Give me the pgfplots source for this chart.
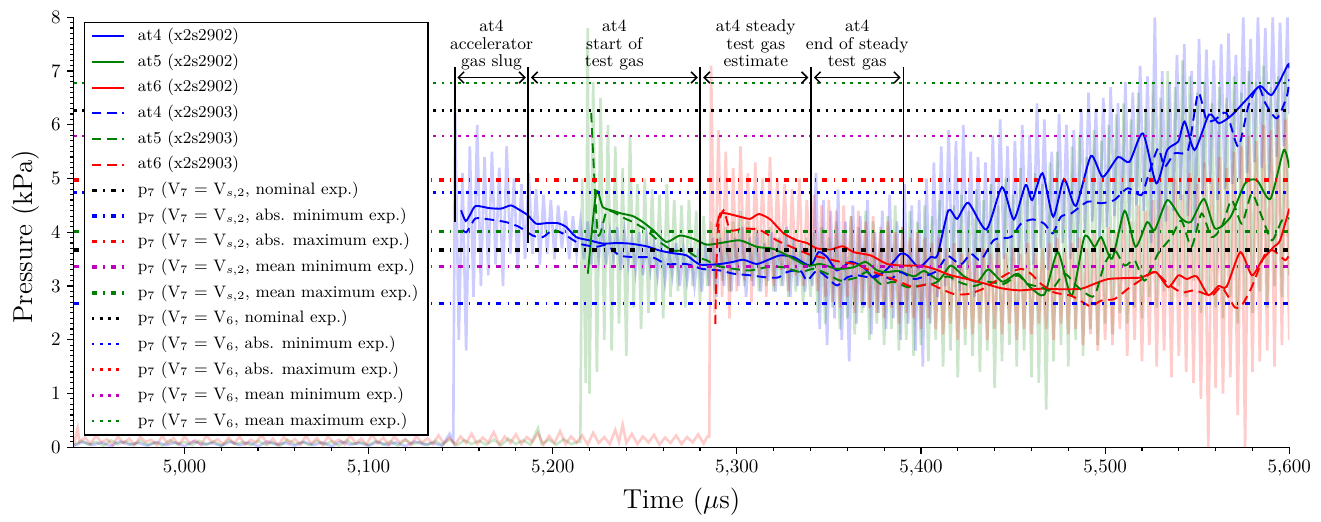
\documentclass[border=0pt]{standalone}
\usepackage{pgfplots}
\pgfplotsset{compat=1.18}
\usetikzlibrary{arrows.meta}
\definecolor{mgreen}{rgb}{0,0.5,0}
\definecolor{mmag}{rgb}{0.75,0,0.75}
\pgfplotsset{
  sm/.style={line width=1pt},
  sdash/.style={line width=1pt, dash pattern=on 5pt off 3pt},
  hdd/.style={line width=1.8pt, dash pattern=on 2.6pt off 3.4pt on 0.7pt off 3.4pt},
  hdot/.style={line width=1.4pt, dash pattern=on 1.4pt off 2.9pt},
  raw/.style={line width=1.4pt, draw opacity=0.2, forget plot},
  vl/.style={black, line width=1pt, forget plot},
}
\tikzset{
  arr/.style={{Straight Barb[length=3pt,width=6pt]}-{Straight Barb[length=3pt,width=6pt]}, line width=0.8pt},
  lab/.style={align=center, anchor=south, font=\small, inner sep=0pt, text depth=0pt},
}
\begin{document}
\begin{tikzpicture}
\begin{axis}[
  scale only axis, width=639.6pt, height=226.3pt,
  xmin=4940, xmax=5600, ymin=0, ymax=8,
  axis lines*=left,
  tick align=outside,
  xtick={5000,5100,...,5600}, ytick={0,1,...,8},
  minor x tick num=4, minor y tick num=9,
  major tick length=3.5pt, minor tick length=2pt,
  every tick/.style={black, line width=0.6pt},
  axis line style={line width=0.6pt},
  xlabel={Time ($\mu$s)}, ylabel={Pressure (kPa)},
  label style={font=\Large},
  xlabel style={at={(axis description cs:0.5,0)}, anchor=center, yshift=-28.5pt},
  ylabel style={at={(axis description cs:-0.0395,0.49)}, anchor=center, rotate=0},
  legend cell align=left,
  legend image code/.code={\draw[#1] (0cm,0cm) -- (0.6cm,0cm); \path (0.75cm,0cm);},
  legend style={at={(0.008,0.99)}, anchor=north west, font=\fontsize{8.75}{10.5}\selectfont, draw=black, line width=0.8pt, fill=white, inner xsep=3pt, inner ysep=0.6pt, row sep=0pt, nodes={text height=7pt, text depth=2.5pt, inner ysep=2.0pt, inner xsep=2pt}},
]
% ---------- raw traces ----------
\addplot[raw, blue] coordinates {
(4940,0.03) (4945,0.1) (4950,0.04) (4955,0.09) (4960,0.02) (4965,0.11) (4970,0.05) (4975,0.08) (4980,0.03) (4985,0.1) (4990,0.04) (4995,0.09) (5000,0.02) (5005,0.11) (5010,0.05) (5015,0.08) (5020,0.03) (5025,0.1) (5030,0.04) (5035,0.09) (5040,0.02) (5045,0.11) (5050,0.05) (5055,0.08) (5060,0.03) (5065,0.1) (5070,0.04) (5075,0.09) (5080,0.02) (5085,0.11) (5090,0.05) (5095,0.08) (5100,0.03) (5105,0.1) (5110,0.04) (5115,0.09) (5120,0.02) (5125,0.11) (5130,0.05) (5135,0.08) (5140,0.03) (5144,0.25) (5146,0.1)
(5147,6.3) (5149,2.0) (5151,5.1) (5153,1.8) (5155,5.6) (5157,2.8) (5159,6.0) (5161,3.0) (5163,5.4) (5165,3.2) (5167,5.5) (5169,3.4) (5171,5.2) (5173,3.0) (5175,5.6) (5177,3.6) (5179,5.0) (5181,3.3) (5183,4.9) (5185,3.5) (5187,5.1) (5189,3.6) (5191,4.8) (5193,3.4) (5195,4.7) (5197,3.6) (5199,4.6) (5201,3.5) (5203,4.5) (5205,3.7) (5207,4.4) (5209,3.5) (5211,4.3) (5213,3.6) (5215,4.2) (5217,3.5) (5219,4.2) (5221,3.4) (5223,4.1) (5225,3.5) (5227,4.2) (5229,3.4) (5231,4.0) (5233,3.5) (5235,4.1) (5237,3.3) (5239,4.0) (5241,3.4) (5243,3.9) (5245,3.3) (5247,4.0) (5249,3.2) (5251,3.9) (5253,3.3) (5255,3.8) (5257,3.2) (5259,3.8) (5261,3.1) (5263,3.7) (5265,3.2) (5267,3.8) (5269,3.0) (5271,3.7) (5273,3.1) (5275,3.6) (5277,3.0) (5279,3.7) (5281,2.9) (5283,3.8) (5285,3.0) (5287,3.9) (5289,2.8) (5291,3.9) (5293,3.0) (5295,4.0) (5297,2.9) (5299,3.9) (5301,3.0) (5303,4.1) (5305,2.8) (5307,3.9) (5309,3.0) (5311,4.0) (5313,2.9) (5315,3.8) (5317,3.1) (5319,4.0) (5321,2.9) (5323,3.9) (5325,3.0) (5327,4.1) (5329,2.8) (5331,3.9) (5333,3.0) (5335,3.8) (5337,2.9) (5339,3.7) (5341,3.0) (5343,5.1) (5345,2.2) (5347,4.6) (5349,1.9) (5351,4.4) (5353,2.4) (5355,4.8) (5357,2.0) (5359,4.2) (5361,1.6) (5363,4.5) (5365,2.3) (5367,4.3) (5369,2.6) (5371,4.6) (5373,2.1) (5375,4.0) (5377,2.5) (5379,4.4) (5381,2.2) (5383,4.7) (5385,2.4) (5387,4.2) (5389,2.0) (5391,4.9) (5393,2.3) (5395,4.5) (5397,1.8) (5399,4.6) (5401,1.5) (5403,5.0) (5405,2.3) (5407,5.3) (5409,2.8) (5411,5.6) (5413,3.0) (5415,5.9) (5417,3.1) (5419,5.7) (5421,2.9) (5423,6.0) (5425,3.3) (5427,5.5) (5429,2.8) (5431,5.4) (5433,3.1) (5435,5.3) (5437,3.0) (5439,5.8) (5441,3.2) (5443,6.1) (5445,3.5) (5447,5.6) (5449,3.2) (5451,5.7) (5453,3.4) (5455,6.0) (5457,3.6) (5459,5.8) (5461,3.4) (5463,6.4) (5465,3.7) (5467,6.1) (5469,3.3) (5471,5.5) (5473,3.6) (5475,6.2) (5477,3.8) (5479,6.0) (5481,3.5) (5483,5.9) (5485,3.7) (5487,6.3) (5489,4.0) (5491,6.6) (5493,4.2) (5495,6.3) (5497,3.9) (5499,6.5) (5501,4.1) (5503,6.7) (5505,4.3) (5507,6.4) (5509,4.0) (5511,6.8) (5513,4.2) (5515,6.6) (5517,4.5) (5519,7.1) (5521,4.4) (5523,6.9) (5525,3.8) (5527,8.0) (5529,3.6) (5531,7.0) (5533,4.2) (5535,6.8) (5537,4.4) (5539,7.3) (5541,4.6) (5543,7.5) (5545,4.3) (5547,7.0) (5549,4.0) (5551,7.6) (5553,4.7) (5555,7.4) (5557,4.9) (5559,7.2) (5561,4.6) (5563,7.5) (5565,4.8) (5567,7.7) (5569,4.9) (5571,7.3) (5573,5.0) (5575,8.0) (5577,5.1) (5579,7.6) (5581,5.3) (5583,8.0) (5585,5.2) (5587,7.8) (5589,5.0) (5591,8.0) (5593,5.4) (5595,7.9) (5597,5.6) (5599,8.0) (5600,6.2)};
\addplot[raw, mgreen] coordinates {
(4940,0.04) (4944,0.12) (4948,0.05) (4952,0.1) (4956,0.03) (4960,0.13) (4964,0.06) (4968,0.11) (4972,0.04) (4976,0.12) (4980,0.05) (4984,0.09) (4988,0.03) (4992,0.13) (4996,0.06) (5000,0.1) (5004,0.04) (5008,0.12) (5012,0.05) (5016,0.11) (5020,0.03) (5024,0.13) (5028,0.06) (5032,0.1) (5036,0.04) (5040,0.12) (5044,0.05) (5048,0.09) (5052,0.03) (5056,0.14) (5060,0.06) (5064,0.1) (5068,0.04) (5072,0.12) (5076,0.05) (5080,0.11) (5084,0.03) (5088,0.13) (5092,0.06) (5096,0.1) (5100,0.04) (5104,0.12) (5108,0.05) (5112,0.11) (5116,0.03) (5120,0.14) (5124,0.06) (5128,0.1) (5132,0.04) (5136,0.12) (5140,0.05) (5144,0.15) (5148,0.04) (5152,0.13) (5156,0.06) (5160,0.12) (5164,0.05) (5168,0.14) (5172,0.04) (5176,0.16) (5180,0.06) (5184,0.13) (5188,0.05) (5192,0.35) (5194,0.06) (5198,0.14) (5202,0.05) (5206,0.15) (5210,0.06) (5214,0.1)
(5215,0.1) (5216,5.0) (5218,1.2) (5219,7.8) (5220,1.0) (5222,6.8) (5224,1.4) (5226,6.5) (5228,2.0) (5230,6.0) (5232,1.8) (5234,5.6) (5236,2.3) (5238,5.2) (5240,1.7) (5242,5.8) (5244,2.6) (5246,4.9) (5248,2.2) (5250,5.0) (5252,2.5) (5254,4.8) (5256,2.7) (5258,4.7) (5260,2.4) (5262,4.9) (5264,2.8) (5266,4.6) (5268,2.9) (5270,4.5) (5272,2.6) (5274,4.6) (5276,3.0) (5278,4.4) (5280,2.7) (5282,4.3) (5284,3.0) (5286,4.2) (5288,2.9) (5290,4.3) (5292,3.1) (5294,4.1) (5296,2.9) (5298,4.2) (5300,3.2) (5302,4.4) (5304,3.0) (5306,4.2) (5308,3.1) (5310,4.1) (5312,2.9) (5314,4.0) (5316,3.0) (5318,4.1) (5320,2.9) (5322,3.9) (5324,3.0) (5326,4.0) (5328,2.8) (5330,3.9) (5332,2.9) (5334,3.8) (5336,2.7) (5338,3.9) (5340,2.8) (5342,4.0) (5344,2.5) (5346,4.1) (5348,2.3) (5350,3.9) (5352,2.6) (5354,4.2) (5356,2.2) (5358,4.0) (5360,2.4) (5362,4.3) (5364,2.1) (5366,4.1) (5368,2.5) (5370,4.4) (5372,2.0) (5374,4.2) (5376,2.3) (5378,4.0) (5380,1.9) (5382,4.3) (5384,2.2) (5386,4.5) (5388,1.8) (5390,4.1) (5392,2.0) (5394,4.4) (5396,1.7) (5398,4.2) (5400,1.9) (5402,4.5) (5404,1.6) (5406,4.3) (5408,2.0) (5410,4.6) (5412,1.5) (5414,4.4) (5416,1.8) (5418,4.5) (5420,1.3) (5422,4.7) (5424,1.9) (5426,4.4) (5428,1.7) (5430,4.8) (5432,1.4) (5434,4.6) (5436,1.8) (5438,4.9) (5440,1.1) (5442,4.5) (5444,1.6) (5446,5.0) (5448,1.9) (5450,4.7) (5452,1.5) (5454,5.2) (5456,1.8) (5458,4.8) (5460,1.3) (5462,5.1) (5464,1.2) (5466,4.9) (5468,0.7) (5470,5.3) (5472,1.6) (5474,5.5) (5476,1.9) (5478,5.0) (5480,1.5) (5482,5.6) (5484,2.0) (5486,5.8) (5488,1.7) (5490,5.4) (5492,2.2) (5494,5.9) (5496,1.9) (5498,5.7) (5500,2.3) (5502,6.0) (5504,2.1) (5506,6.2) (5508,2.5) (5510,6.4) (5512,2.3) (5514,6.1) (5516,2.6) (5518,6.6) (5520,2.4) (5522,6.3) (5524,2.8) (5526,6.8) (5528,2.6) (5530,6.5) (5532,2.9) (5534,7.0) (5536,2.7) (5538,6.7) (5540,3.0) (5542,7.2) (5544,2.8) (5546,6.9) (5548,3.1) (5550,6.6) (5552,2.5) (5554,6.8) (5556,2.9) (5558,6.4) (5560,2.6) (5562,6.7) (5564,2.4) (5566,6.5) (5568,2.8) (5570,6.9) (5572,2.3) (5574,6.6) (5576,2.7) (5578,7.0) (5580,2.5) (5582,6.8) (5584,2.9) (5586,7.1) (5588,2.6) (5590,6.7) (5592,3.0) (5594,6.9) (5596,2.8) (5598,7.0) (5600,3.2)};
\addplot[raw, red] coordinates {
(4940,0.05) (4942,0.35) (4943,0.1) (4946,0.18) (4949,0.06) (4952,0.22) (4955,0.09) (4958,0.15) (4961,0.04) (4964,0.2) (4967,0.08) (4970,0.16) (4973,0.05) (4976,0.19) (4979,0.1) (4982,0.14) (4985,0.04) (4988,0.21) (4991,0.07) (4994,0.17) (4997,0.05) (5000,0.2) (5003,0.08) (5006,0.13) (5009,0.04) (5012,0.22) (5015,0.09) (5018,0.15) (5021,0.06) (5024,0.18) (5027,0.07) (5030,0.2) (5033,0.05) (5036,0.14) (5039,0.09) (5042,0.23) (5045,0.06) (5048,0.16) (5051,0.04) (5054,0.19) (5057,0.08) (5060,0.15) (5063,0.05) (5066,0.21) (5069,0.07) (5072,0.17) (5075,0.04) (5078,0.2) (5081,0.09) (5084,0.14) (5087,0.05) (5090,0.22) (5093,0.08) (5096,0.16) (5099,0.06) (5102,0.24) (5105,0.07) (5108,0.18) (5111,0.05) (5114,0.2) (5117,0.09) (5120,0.15) (5123,0.04) (5126,0.21) (5129,0.08) (5132,0.17) (5135,0.06) (5138,0.22) (5141,0.07) (5144,0.18) (5147,0.05) (5150,0.2) (5153,0.08) (5156,0.25) (5159,0.06) (5162,0.18) (5165,0.09) (5168,0.28) (5171,0.05) (5174,0.2) (5177,0.08) (5180,0.24) (5183,0.06) (5186,0.19) (5189,0.1) (5192,0.26) (5195,0.05) (5198,0.21) (5201,0.08) (5204,0.3) (5207,0.06) (5210,0.2) (5213,0.09) (5216,0.22) (5219,0.05) (5222,0.27) (5225,0.08) (5228,0.19) (5231,0.06) (5234,0.32) (5236,0.1) (5238,0.42) (5240,0.08) (5243,0.25) (5246,0.06) (5249,0.2) (5252,0.09) (5255,0.23) (5258,0.05) (5261,0.18) (5264,0.08) (5267,0.22) (5270,0.06) (5273,0.19) (5276,0.09) (5279,0.24) (5282,0.07) (5284,0.2)
(5285,0.2) (5286,7.1) (5288,2.5) (5290,5.9) (5292,2.8) (5294,5.5) (5296,2.4) (5298,5.2) (5300,2.9) (5302,5.6) (5304,3.1) (5306,5.1) (5308,2.7) (5310,5.3) (5312,3.2) (5314,5.0) (5316,2.8) (5318,5.4) (5320,3.0) (5322,5.0) (5324,3.3) (5326,4.9) (5328,2.9) (5330,4.8) (5332,3.2) (5334,5.0) (5336,3.0) (5338,4.6) (5340,3.3) (5342,4.7) (5344,2.9) (5346,4.5) (5348,2.8) (5350,4.6) (5352,2.7) (5354,4.4) (5356,2.6) (5358,4.5) (5360,2.8) (5362,4.3) (5364,2.5) (5366,4.4) (5368,2.7) (5370,4.2) (5372,2.6) (5374,4.3) (5376,2.5) (5378,4.1) (5380,2.4) (5382,4.2) (5384,2.6) (5386,4.0) (5388,2.3) (5390,4.1) (5392,2.5) (5394,3.9) (5396,2.4) (5398,4.0) (5400,2.2) (5402,3.9) (5404,2.4) (5406,3.8) (5408,2.2) (5410,3.9) (5412,2.1) (5414,3.7) (5416,2.3) (5418,3.8) (5420,2.0) (5422,3.6) (5424,2.2) (5426,3.7) (5428,2.1) (5430,3.5) (5432,2.3) (5434,3.7) (5436,2.0) (5438,3.6) (5440,2.2) (5442,3.8) (5444,2.1) (5446,3.6) (5448,2.3) (5450,3.7) (5452,2.0) (5454,3.6) (5456,2.2) (5458,3.8) (5460,2.1) (5462,3.6) (5464,2.3) (5466,3.7) (5468,2.2) (5470,3.8) (5472,2.0) (5474,3.9) (5476,2.3) (5478,3.7) (5480,2.1) (5482,3.8) (5484,2.2) (5486,3.9) (5488,1.9) (5490,3.7) (5492,2.1) (5494,4.0) (5496,1.8) (5498,3.9) (5500,2.0) (5502,4.1) (5504,1.9) (5506,4.0) (5508,2.2) (5510,4.3) (5512,1.7) (5514,4.2) (5516,2.0) (5518,4.5) (5520,1.6) (5522,4.4) (5524,1.9) (5526,4.6) (5528,1.5) (5530,4.8) (5532,1.8) (5534,4.5) (5536,1.3) (5538,5.0) (5540,1.7) (5542,4.7) (5544,1.4) (5546,5.1) (5548,1.2) (5550,4.9) (5552,0.9) (5554,5.3) (5556,0.0) (5558,5.0) (5560,1.1) (5562,5.4) (5564,1.0) (5566,5.2) (5568,1.3) (5570,5.5) (5572,0.6) (5574,5.6) (5576,0.0) (5578,5.8) (5580,1.4) (5582,5.7) (5584,1.6) (5586,6.0) (5588,1.8) (5590,5.9) (5592,1.5) (5594,6.2) (5596,1.9) (5598,6.1) (5600,2.0)};
% ---------- smoothed traces ----------
\addplot[sm, blue, smooth, tension=0.4] coordinates {
(5150.2,4.41) (5152.8,4.21) (5155.5,4.35) (5158.2,4.49) (5165.5,4.45) (5171.9,4.44) (5177.3,4.50) (5181.8,4.42) (5186.4,4.32) (5191,4.16) (5196.4,4.17) (5202.7,4.17) (5207.3,4.10) (5212.8,3.91) (5220,3.85) (5227.2,3.79) (5234.6,3.80) (5241.8,3.79) (5250.9,3.74) (5258.1,3.66) (5265.4,3.61) (5272.7,3.57) (5280,3.40) (5290.8,3.41) (5298.1,3.45) (5303.5,3.49) (5310.8,3.41) (5317.2,3.49) (5323.5,3.57) (5330.8,3.54) (5339.9,3.38) (5344.4,3.63) (5349,3.54) (5354.4,3.29) (5361.7,3.45) (5368.9,3.35) (5374.4,3.15) (5381.7,3.32) (5388.9,3.60) (5392.6,3.57) (5398.9,3.35) (5405.3,3.54) (5408.9,3.57) (5414.9,4.41) (5419.6,4.25) (5425.7,4.55) (5435.5,4.05) (5444,4.84) (5450.4,4.24) (5456.8,4.88) (5460.4,4.60) (5466,5.10) (5471.8,4.29) (5477.7,4.99) (5484.1,4.49) (5492.3,5.42) (5498.7,5.03) (5507,5.40) (5513.2,5.31) (5520.5,5.84) (5527.8,4.91) (5533.7,5.53) (5539.7,5.69) (5543.2,6.06) (5548.6,5.53) (5556.4,6.19) (5561.8,6.03) (5568.5,6.17) (5576.8,6.47) (5584.2,6.72) (5590.6,6.56) (5599.3,7.12) (5600,7.05)};
\addlegendentry{at4 (x2s2902)}
\addplot[sm, mgreen, smooth, tension=0.4] coordinates {
(5219.1,3.23) (5223.6,4.74) (5227.2,4.47) (5232.7,4.40) (5237.3,4.35) (5243.6,4.30) (5249,4.19) (5254.5,4.04) (5261.8,3.82) (5269,3.94) (5276.3,3.88) (5283.6,3.77) (5291,3.80) (5301.7,3.85) (5310.8,3.73) (5319.9,3.69) (5329,3.54) (5338.1,3.38) (5345.4,3.41) (5354.4,3.32) (5363.5,3.35) (5369.9,3.45) (5376.2,3.29) (5381.7,3.26) (5388,3.28) (5396.2,3.18) (5401.7,3.28) (5409.8,3.12) (5416.1,3.38) (5423.4,3.18) (5430.6,3.08) (5436.6,3.31) (5444.3,3.08) (5452.5,3.23) (5459.3,2.98) (5467,2.84) (5474.3,3.63) (5481.8,2.82) (5488.8,3.92) (5494.3,3.73) (5497.9,3.91) (5503.8,3.51) (5510.6,4.40) (5516.5,3.73) (5522.8,4.19) (5526.9,4.04) (5533.8,4.60) (5541,4.27) (5546.5,4.19) (5553.7,4.62) (5559.7,4.07) (5568,4.28) (5576,4.91) (5582.4,4.97) (5589.7,4.62) (5597,5.53) (5600,5.20)};
\addlegendentry{at5 (x2s2902)}
\addplot[sm, red, smooth, tension=0.4] coordinates {
(5289,4.10) (5291,4.35) (5294.5,4.35) (5301.7,4.29) (5307.2,4.25) (5312,4.34) (5318.1,4.24) (5325.4,3.98) (5332.6,3.85) (5338.1,3.80) (5343.5,3.70) (5351,3.68) (5357.5,3.74) (5363.5,3.63) (5372.6,3.57) (5381.7,3.41) (5390.7,3.38) (5399.8,3.38) (5407.1,3.32) (5416.1,3.20) (5425.2,3.13) (5434.3,3.05) (5443.4,2.96) (5453.4,2.92) (5465.2,2.95) (5476.1,2.94) (5487,2.95) (5494.1,3.04) (5501.6,3.13) (5512.5,3.15) (5519.8,3.16) (5527.5,3.26) (5534.3,2.98) (5539.8,3.20) (5544.3,3.13) (5549.7,3.18) (5556.1,2.83) (5561.5,3.0) (5566,2.99) (5573.4,3.63) (5579.7,3.20) (5585.2,3.48) (5591.6,3.73) (5595,3.85) (5600,4.44)};
\addlegendentry{at6 (x2s2902)}
\addplot[sdash, blue, smooth, tension=0.4] coordinates {
(5151,4.04) (5153,4.0) (5155.5,4.12) (5158.2,4.26) (5165.5,4.24) (5174.6,4.19) (5181.8,4.10) (5189.1,3.94) (5194.6,3.91) (5200,4.04) (5205.4,3.98) (5214.5,3.79) (5223.6,3.73) (5229.1,3.76) (5236.3,3.57) (5243.6,3.54) (5254.5,3.53) (5261.8,3.41) (5272.7,3.41) (5281,3.32) (5290.8,3.29) (5298.1,3.23) (5307.2,3.20) (5316.3,3.16) (5322.6,3.16) (5327.2,3.26) (5334.4,3.29) (5338.1,3.10) (5343.5,3.29) (5349,3.16) (5354.4,3.01) (5359.9,3.16) (5365.3,3.20) (5372.6,3.16) (5378,3.23) (5383.5,3.13) (5388.9,3.26) (5396.4,3.13) (5403.4,3.20) (5408.9,3.29) (5414.4,3.56) (5421.6,3.40) (5427.1,3.60) (5432.5,3.48) (5439.7,3.86) (5448.8,3.91) (5454.3,4.16) (5460.6,4.24) (5467,4.16) (5471.5,3.98) (5476,4.29) (5481.5,4.35) (5490.5,4.57) (5497.8,4.54) (5505,4.60) (5512.3,4.82) (5519.6,4.69) (5523.2,5.03) (5528.7,5.56) (5532.3,5.22) (5537.7,5.47) (5545,5.53) (5550.5,6.59) (5555,6.09) (5559.5,6.09) (5565.9,6.22) (5572.3,5.59) (5577.7,6.34) (5583.2,6.72) (5586.9,6.41) (5593.2,6.12) (5598.7,6.53) (5600,6.85)};
\addlegendentry{at4 (x2s2903)}
\addplot[sdash, mgreen, smooth, tension=0.4] coordinates {
(5220.9,6.22) (5224.5,3.98) (5229.1,4.38) (5232.7,4.38) (5239,4.26) (5243.6,4.19) (5250.9,4.04) (5258.1,3.82) (5265.4,3.66) (5272.7,3.66) (5278.1,3.54) (5283.6,3.48) (5289,3.38) (5298.1,3.32) (5307.2,3.29) (5316.3,3.35) (5325.4,3.35) (5334.4,3.26) (5341.7,3.32) (5349,3.23) (5356.2,3.10) (5365.3,3.16) (5370.8,3.26) (5378,3.04) (5385.3,3.08) (5392.6,2.98) (5399.8,3.01) (5407.1,3.05) (5414.4,3.18) (5421.6,3.06) (5428.8,3.0) (5436.1,3.08) (5445.1,3.04) (5452.5,3.20) (5457.9,3.04) (5465.2,2.98) (5470.7,2.92) (5477.9,3.23) (5483.4,3.04) (5488.8,2.88) (5494.3,2.82) (5499.7,3.41) (5505.2,3.66) (5510.6,3.38) (5516,3.48) (5521.5,3.10) (5528.7,3.60) (5536,3.91) (5541.4,4.22) (5546.9,3.73) (5552.4,4.35) (5557.8,3.91) (5563.3,4.10) (5568.7,4.60) (5574.2,4.16) (5579.6,4.72) (5585.1,4.29) (5590.6,3.85) (5596,4.22) (5600,4.26)};
\addlegendentry{at5 (x2s2903)}
\addplot[sdash, red, smooth, tension=0.4] coordinates {
(5288.3,2.29) (5289.6,4.0) (5292.8,4.41) (5296.4,4.04) (5303.6,4.07) (5312.6,4.04) (5321.7,3.85) (5330.8,3.71) (5339.9,3.58) (5349,3.51) (5356.2,3.45) (5365,3.40) (5374.4,3.26) (5381.7,3.17) (5389,3.07) (5396.2,2.98) (5404.4,3.04) (5410.7,2.95) (5418,2.85) (5425.2,2.85) (5432.5,2.93) (5438.5,3.05) (5447,3.23) (5454.3,3.32) (5459.7,3.23) (5465.2,3.04) (5472.4,2.88) (5481.5,2.82) (5488.8,2.68) (5492.5,2.62) (5497.9,2.73) (5505.2,2.76) (5512.4,2.95) (5521.5,3.16) (5527,3.26) (5534.2,3.04) (5541.5,2.88) (5548.7,2.92) (5557.8,2.82) (5563.3,2.98) (5570.5,2.60) (5574.2,2.64) (5579.6,2.98) (5586.9,3.60) (5591.5,3.66) (5597.8,3.48) (5600,3.60)};
\addlegendentry{at6 (x2s2903)}
% ---------- horizontal reference levels ----------
\addplot[hdd, black] coordinates {(4940,3.67) (5600,3.67)};
\addlegendentry{p$_7$ (V$_7$ $=$ V$_{s,2}$, nominal exp.)}
\addplot[hdd, blue] coordinates {(4940,2.67) (5600,2.67)};
\addlegendentry{p$_7$ (V$_7$ $=$ V$_{s,2}$, abs. minimum exp.)}
\addplot[hdd, red] coordinates {(4940,4.97) (5600,4.97)};
\addlegendentry{p$_7$ (V$_7$ $=$ V$_{s,2}$, abs. maximum exp.)}
\addplot[hdd, mmag] coordinates {(4940,3.36) (5600,3.36)};
\addlegendentry{p$_7$ (V$_7$ $=$ V$_{s,2}$, mean minimum exp.)}
\addplot[hdd, mgreen] coordinates {(4940,4.01) (5600,4.01)};
\addlegendentry{p$_7$ (V$_7$ $=$ V$_{s,2}$, mean maximum exp.)}
\addplot[hdot, black] coordinates {(4940,6.27) (5600,6.27)};
\addlegendentry{p$_7$ (V$_7$ $=$ V$_6$, nominal exp.)}
\addplot[hdot, blue] coordinates {(4940,4.74) (5600,4.74)};
\addlegendentry{p$_7$ (V$_7$ $=$ V$_6$, abs. minimum exp.)}
\addplot[hdot, red] coordinates {(4940,8.6) (5600,8.6)};
\addlegendentry{p$_7$ (V$_7$ $=$ V$_6$, abs. maximum exp.)}
\addplot[hdot, mmag] coordinates {(4940,5.79) (5600,5.79)};
\addlegendentry{p$_7$ (V$_7$ $=$ V$_6$, mean minimum exp.)}
\addplot[hdot, mgreen] coordinates {(4940,6.78) (5600,6.78)};
\addlegendentry{p$_7$ (V$_7$ $=$ V$_6$, mean maximum exp.)}
% ---------- annotations ----------
\addplot[vl] coordinates {(5146.8,4.20) (5146.8,7.08)};
\addplot[vl] coordinates {(5186.8,3.80) (5186.8,7.08)};
\addplot[vl] coordinates {(5280.2,3.43) (5280.2,7.08)};
\addplot[vl] coordinates {(5340.3,3.39) (5340.3,7.08)};
\addplot[vl] coordinates {(5390.5,3.39) (5390.5,7.08)};
\draw[arr] (axis cs:5148.2,6.88) -- (axis cs:5185.4,6.88);
\draw[arr] (axis cs:5188.2,6.88) -- (axis cs:5278.8,6.88);
\draw[arr] (axis cs:5281.7,6.88) -- (axis cs:5338.8,6.88);
\draw[arr] (axis cs:5341.8,6.88) -- (axis cs:5389.0,6.88);
\node[lab] at (axis cs:5166.8,7.07) {at4\\[-1.7pt]accelerator\\[-1.7pt]gas slug};
\node[lab] at (axis cs:5233.5,7.07) {at4\\[-1.7pt]start of\\[-1.7pt]test gas};
\node[lab] at (axis cs:5310.3,7.07) {at4 steady\\[-1.7pt]test gas\\[-1.7pt]estimate};
\node[lab] at (axis cs:5365.4,7.07) {at4\\[-1.7pt]end of steady\\[-1.7pt]test gas};
\end{axis}
\path (-38.9pt,-35.1pt) rectangle (656.3pt,235.4pt);
\end{tikzpicture}
\end{document}
